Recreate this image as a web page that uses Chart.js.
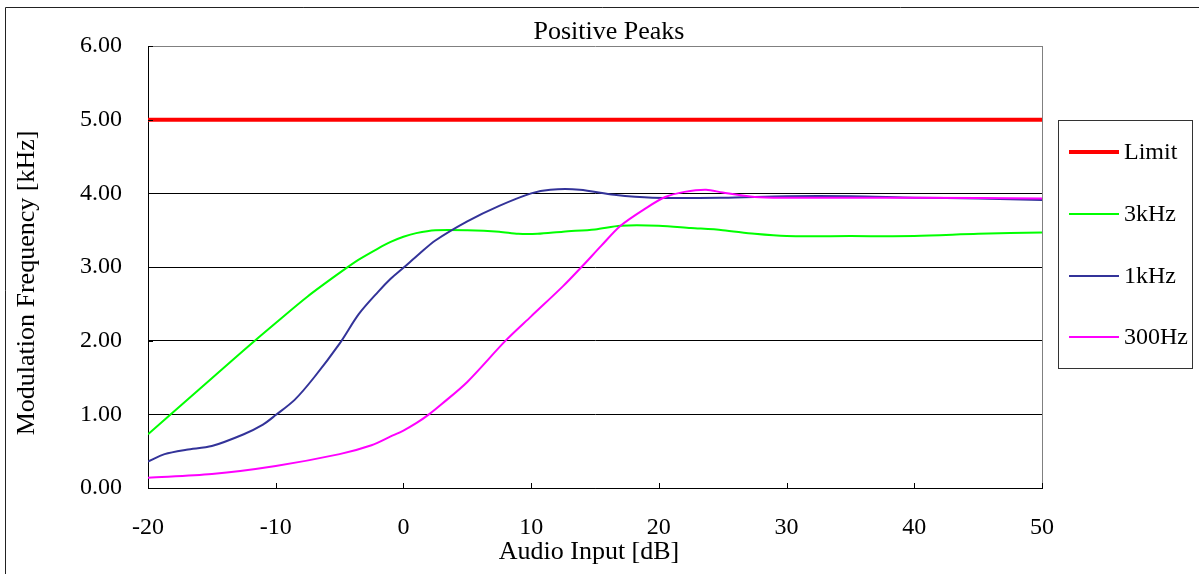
<!DOCTYPE html>
<html lang="en">
<head>
<meta charset="UTF-8">
<title>Positive Peaks</title>
<style>
    * { margin: 0; padding: 0; box-sizing: border-box; }
    body { background: #fff; width: 1199px; height: 574px; overflow: hidden; }
    #wrap { width: 1199px; height: 574px; }
</style>
<script src="https://cdn.jsdelivr.net/npm/chart.js"></script>
</head>
<body>
<div id="wrap"><canvas id="peakChart" width="1199" height="574"></canvas></div>
<script>
// values
const chartTitle = 'Positive Peaks';
const xTitle = 'Audio Input [dB]';
const yTitle = 'Modulation Frequency [kHz]';
const seriesNames = ['Limit', '3kHz', '1kHz', '300Hz'];

const limitX = [-20, 50];
const limitY = [5, 5];

const x3k = [-20, -17.5, -15, -12.5, -10, -7.5, -5, -3.5, -2, -1, 0, 1, 2.5, 5, 7.5, 9, 10.5, 12.5, 15, 17, 20, 22.5, 25, 27.5, 30, 35, 40, 45, 50];
const y3k = [0.73, 1.11, 1.49, 1.87, 2.24, 2.6, 2.92, 3.1, 3.25, 3.34, 3.41, 3.46, 3.5, 3.5, 3.48, 3.45, 3.45, 3.48, 3.51, 3.56, 3.56, 3.53, 3.5, 3.45, 3.42, 3.42, 3.42, 3.45, 3.47];

const x1k = [-20, -18.7, -17, -15, -12.5, -11, -10, -8.5, -7, -5, -3.5, -2, -1, 0, 1.25, 2.5, 5, 7.5, 10, 11.5, 13.8, 16.5, 19.5, 25, 30, 35, 40, 45, 50];
const y1k = [0.36, 0.46, 0.52, 0.57, 0.73, 0.86, 0.99, 1.2, 1.5, 1.96, 2.36, 2.66, 2.84, 2.99, 3.18, 3.36, 3.62, 3.83, 4.0, 4.05, 4.05, 3.98, 3.94, 3.94, 3.96, 3.96, 3.94, 3.93, 3.91];

const x300 = [-20, -15, -10, -5, -2.5, -1, 0, 1, 2, 3, 5, 8, 10, 12.5, 14, 15.5, 17, 19, 20.5, 22, 23.7, 25, 27.5, 30, 40, 50];
const y300 = [0.14, 0.19, 0.3, 0.46, 0.58, 0.7, 0.78, 0.88, 1.0, 1.14, 1.44, 2.0, 2.33, 2.74, 3.01, 3.29, 3.56, 3.8, 3.95, 4.02, 4.05, 4.01, 3.95, 3.94, 3.94, 3.93];

const serif = '"Liberation Serif", "Times New Roman", serif';

function pts(xs, ys) {
    return xs.map((x, i) => ({ x: x, y: ys[i] }));
}

// titles, legend box, frame and the small inside tick marks
const extras = {
    id: 'extras',
    afterDraw(chart) {
        const ctx = chart.ctx;
        const a = chart.chartArea;
        const sx = chart.scales.x, sy = chart.scales.y;
        ctx.save();

        // outer frame (only left and top are inside the picture)
        ctx.strokeStyle = '#222';
        ctx.lineWidth = 1;
        ctx.beginPath();
        ctx.moveTo(5.5, 574); ctx.lineTo(5.5, 7.5); ctx.lineTo(1199, 7.5);
        ctx.stroke();

        // right side of plot area
        ctx.strokeStyle = '#808080';
        ctx.beginPath();
        ctx.moveTo(a.right + 0.5, a.top); ctx.lineTo(a.right + 0.5, a.bottom);
        ctx.stroke();

        // inside tick marks
        ctx.strokeStyle = '#000';
        ctx.beginPath();
        sx.ticks.forEach(t => {
            const px = Math.round(sx.getPixelForValue(t.value)) + 0.5;
            ctx.moveTo(px, a.bottom); ctx.lineTo(px, a.bottom - 5);
        });
        sy.ticks.forEach(t => {
            const py = Math.round(sy.getPixelForValue(t.value)) + 0.5;
            ctx.moveTo(a.left, py); ctx.lineTo(a.left + 5, py);
        });
        ctx.stroke();

        // titles
        ctx.fillStyle = '#000';
        ctx.font = '26px ' + serif;
        ctx.textAlign = 'center';
        ctx.textBaseline = 'alphabetic';
        ctx.fillText(chartTitle, 609, 39);
        ctx.fillText(xTitle, 589, 559);
        ctx.save();
        ctx.translate(34, 283);
        ctx.rotate(-Math.PI / 2);
        ctx.fillText(yTitle, 0, 0);
        ctx.restore();

        // legend
        ctx.strokeStyle = '#333';
        ctx.lineWidth = 1;
        ctx.strokeRect(1058.5, 120.5, 134, 248);
        const rows = [152, 214, 276, 337];
        ctx.font = '24px ' + serif;
        ctx.textAlign = 'left';
        ctx.textBaseline = 'middle';
        chart.data.datasets.forEach((ds, i) => {
            ctx.strokeStyle = ds.borderColor;
            ctx.lineWidth = ds.borderWidth;
            ctx.beginPath();
            ctx.moveTo(1069, rows[i]); ctx.lineTo(1119, rows[i]);
            ctx.stroke();
            ctx.fillStyle = '#000';
            ctx.fillText(ds.label, 1124, rows[i] + 1);
        });
        ctx.restore();
    }
};

const lineStyle = { showLine: true, pointRadius: 0, tension: 0.3, fill: false };

new Chart(document.getElementById('peakChart'), {
    type: 'scatter',
    data: {
        datasets: [
            Object.assign({ label: seriesNames[0], data: pts(limitX, limitY), borderColor: '#ff0000', borderWidth: 4, order: 3 }, lineStyle),
            Object.assign({ label: seriesNames[1], data: pts(x3k, y3k), borderColor: '#00ff00', borderWidth: 2, order: 2 }, lineStyle),
            Object.assign({ label: seriesNames[2], data: pts(x1k, y1k), borderColor: '#333399', borderWidth: 2, order: 1 }, lineStyle),
            Object.assign({ label: seriesNames[3], data: pts(x300, y300), borderColor: '#ff00ff', borderWidth: 2, order: 0 }, lineStyle)
        ]
    },
    options: {
        responsive: false,
        animation: false,
        layout: { padding: { top: 46, right: 157, bottom: 0, left: 0 } },
        plugins: {
            legend: { display: false },
            title: { display: false },
            tooltip: { enabled: false }
        },
        scales: {
            x: {
                type: 'linear',
                min: -20,
                max: 50,
                afterFit(s) { s.height = 86; },
                ticks: { stepSize: 10, color: '#000', padding: 25, maxRotation: 0, font: { family: serif, size: 24 } },
                grid: { display: false, drawTicks: false },
                border: { color: '#000', width: 1 }
            },
            y: {
                min: 0,
                max: 6,
                afterFit(s) { s.width = 148; },
                ticks: {
                    stepSize: 1,
                    color: '#000',
                    padding: 26,
                    font: { family: serif, size: 24 },
                    callback: v => v.toFixed(2)
                },
                grid: {
                    drawTicks: false,
                    color: c => (c.tick && c.tick.value === 6) ? '#808080' : '#000'
                },
                border: { color: '#000', width: 1 }
            }
        }
    },
    plugins: [extras]
});
</script>
</body>
</html>
